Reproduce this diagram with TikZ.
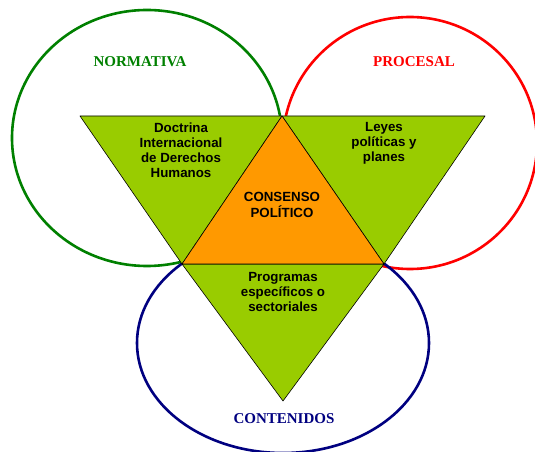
\documentclass[tikz,border=0pt]{standalone}
\usepackage{fontspec}
\setmainfont{Liberation Sans}
\newfontfamily\serifb{Liberation Serif}
\definecolor{leaf}{HTML}{99CC00}
\definecolor{amber}{HTML}{FF9900}
\definecolor{normg}{HTML}{008000}
\definecolor{procr}{HTML}{FF0000}
\definecolor{contb}{HTML}{000080}
\tikzset{
  ring/.style={line width=2.6pt},
  piece/.style={draw=black, line width=0.6pt, line join=round},
  inner/.style={align=center, font=\fontsize{13.3}{15}\selectfont\bfseries, inner sep=0pt},
  title/.style={font=\fontsize{15}{17}\selectfont\serifb\bfseries, inner sep=0pt}
}
\begin{document}
\begin{tikzpicture}[x=1pt,y=1pt]
\useasboundingbox (0,0) rectangle (535,452);
% circles (image y -> 452-y)
\draw[ring, normg] (147,314) ellipse [x radius=135, y radius=128];
\draw[ring, procr] (410,309) ellipse [x radius=127, y radius=126];
\draw[ring, contb] (283,109) ellipse [x radius=146, y radius=110];
% triangle vertices
\coordinate (tl) at (80,336);
\coordinate (tm) at (282,336);
\coordinate (tr) at (485,336);
\coordinate (ml) at (182,188);
\coordinate (mr) at (384,188);
\coordinate (bt) at (283,51);
\filldraw[piece, fill=leaf] (tl) -- (tm) -- (ml) -- cycle;
\filldraw[piece, fill=leaf] (tm) -- (tr) -- (mr) -- cycle;
\filldraw[piece, fill=leaf] (ml) -- (mr) -- (bt) -- cycle;
\filldraw[piece, fill=amber] (tm) -- (mr) -- (ml) -- cycle;
% texts
\node[inner] (doc) at (181,301.5) {Doctrina\\Internacional\\de Derechos\\Humanos};
\node[inner] (ley) at (384,309) {Leyes\\políticas y\\planes};
\node[inner, font=\fontsize{13.3}{16}\selectfont\bfseries] (con) at (282,247) {CONSENSO\\POLÍTICO};
\node[inner] (pro) at (283,160.5) {Programas\\específicos o\\sectoriales};
\node[title, normg] (nor) at (140,390) {NORMATIVA};
\node[title, procr] (pcs) at (414,390) {PROCESAL};
\node[title, contb] (cts) at (284,33) {CONTENIDOS};
\end{tikzpicture}
\end{document}
